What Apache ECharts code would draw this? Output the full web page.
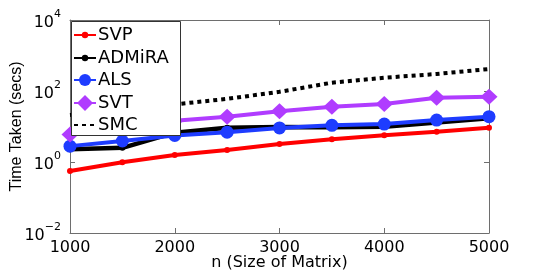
<!DOCTYPE html>
<html><head><meta charset="utf-8">
<script src="https://cdn.jsdelivr.net/npm/echarts@6/dist/echarts.min.js"></script>
<style>html,body{margin:0;padding:0;background:#fff}#c{width:540px;height:273px}</style>
</head><body><div id="c"></div>
<script>
const nValues = [1000, 1500, 2000, 2500, 3000, 3500, 4000, 4500, 5000];
const svp    = [0.56, 0.98, 1.57, 2.18, 3.2, 4.35, 5.65, 7.1, 9.2];
const admira = [2.3, 2.5, 6.7, 9.2, 9.7, 9.5, 9.9, 13, 17];
const als    = [2.8, 3.9, 5.6, 6.9, 9.1, 10.8, 11.7, 15.2, 18.9];
const svt    = [6.0, 10, 14.6, 18.9, 27, 36, 43, 65, 69];
const smc    = [21, 30, 42, 60, 95, 171, 237, 301, 417];
const seriesNames = ['SVP', 'ADMiRA', 'ALS', 'SVT', 'SMC'];

const pair = arr => nValues.map((n, i) => [n, arr[i]]);
const F = 'DejaVu Sans';
const axisCol = '#6e6e6e';

const chart = echarts.init(document.getElementById('c'), null, {renderer: 'canvas'});
const baseX = {
  type: 'value', min: 1000, max: 5000, interval: 1000,
  axisLine: {show: true, lineStyle: {color: axisCol, width: 1}},
  axisTick: {show: true, inside: true, length: 5, lineStyle: {color: axisCol}},
  splitLine: {show: false}
};
const baseY = {
  type: 'log', logBase: 10, min: 0.01, max: 10000, interval: 2,
  axisLine: {show: true, lineStyle: {color: axisCol, width: 1}},
  axisTick: {show: true, inside: true, length: 5, lineStyle: {color: axisCol}},
  splitLine: {show: false}, minorTick: {show: false}
};
// per-legend-item icon heights (legend symbol = 80% of itemHeight)
const legendIconH = [8, 8, 15, 20, 8];
const legendCenters = [33, 56, 78, 101, 123];
const legends = seriesNames.map((nm, i) => ({
  z: 200, orient: 'vertical', left: 73, top: legendCenters[i] - 7,
  padding: 0, itemWidth: 22, itemHeight: legendIconH[i],
  textStyle: {fontFamily: F, fontSize: 18, color: '#000', padding: [0, 0, 0, -3]},
  selectedMode: false,
  data: [nm === 'SMC' ? {name: nm, itemStyle: {opacity: 0}} : nm]
}));

chart.setOption({
  animation: false,
  grid: {left: 70, top: 20, right: 51, bottom: 40, containLabel: false, outerBoundsMode: 'none'},
  xAxis: [
    Object.assign({}, baseX, {
      position: 'bottom',
      name: 'n (Size of Matrix)', nameLocation: 'middle', nameGap: 22, nameMoveOverlap: false,
      nameTextStyle: {fontFamily: F, fontSize: 16, color: '#000', verticalAlign: 'top'},
      axisLabel: {fontFamily: F, fontSize: 16, color: '#000', margin: 7, formatter: v => String(v)}
    }),
    Object.assign({}, baseX, {position: 'top', axisLabel: {show: false}})
  ],
  yAxis: [
    Object.assign({}, baseY, {
      position: 'left',
      name: 'Time Taken (secs)', nameLocation: 'middle', nameGap: 45, nameMoveOverlap: false,
      nameTextStyle: {fontFamily: 'Liberation Sans', fontSize: 16, color: '#000'},
      axisLabel: {
        margin: 9,
        formatter: v => {
          const e = Math.round(Math.log10(v));
          return '{b|10}{s|' + (e < 0 ? '\u2212' : '') + Math.abs(e) + '}';
        },
        rich: {
          b: {fontFamily: F, fontSize: 16, color: '#000', lineHeight: 22, verticalAlign: 'bottom'},
          s: {fontFamily: F, fontSize: 11, color: '#000', lineHeight: 12, verticalAlign: 'top'}
        }
      }
    }),
    Object.assign({}, baseY, {position: 'right', axisLabel: {show: false}})
  ],
  graphic: {
    elements: [{
      type: 'rect', z: 100, zlevel: 0, shape: {x: 71.5, y: 21.5, width: 109, height: 114},
      style: {fill: '#fff', stroke: '#333', lineWidth: 1}
    }]
  },
  legend: legends,
  series: [
    {name: 'SVP', type: 'line', data: pair(svp), color: '#ff0000',
     lineStyle: {width: 4}, symbol: 'circle', symbolSize: 6},
    {name: 'ADMiRA', type: 'line', data: pair(admira), color: '#000000',
     lineStyle: {width: 4.5}, symbol: 'circle', symbolSize: 6},
    {name: 'ALS', type: 'line', data: pair(als), color: '#1e3cff',
     lineStyle: {width: 4}, symbol: 'circle', symbolSize: 13},
    {name: 'SVT', type: 'line', data: pair(svt), color: '#b03cff',
     lineStyle: {width: 4}, symbol: 'diamond', symbolSize: [17, 16]},
    {name: 'SMC', type: 'line', data: pair(smc), color: '#000000',
     lineStyle: {width: 4, type: [4, 4]}, symbol: 'none'}
  ]
});
</script></body></html>
